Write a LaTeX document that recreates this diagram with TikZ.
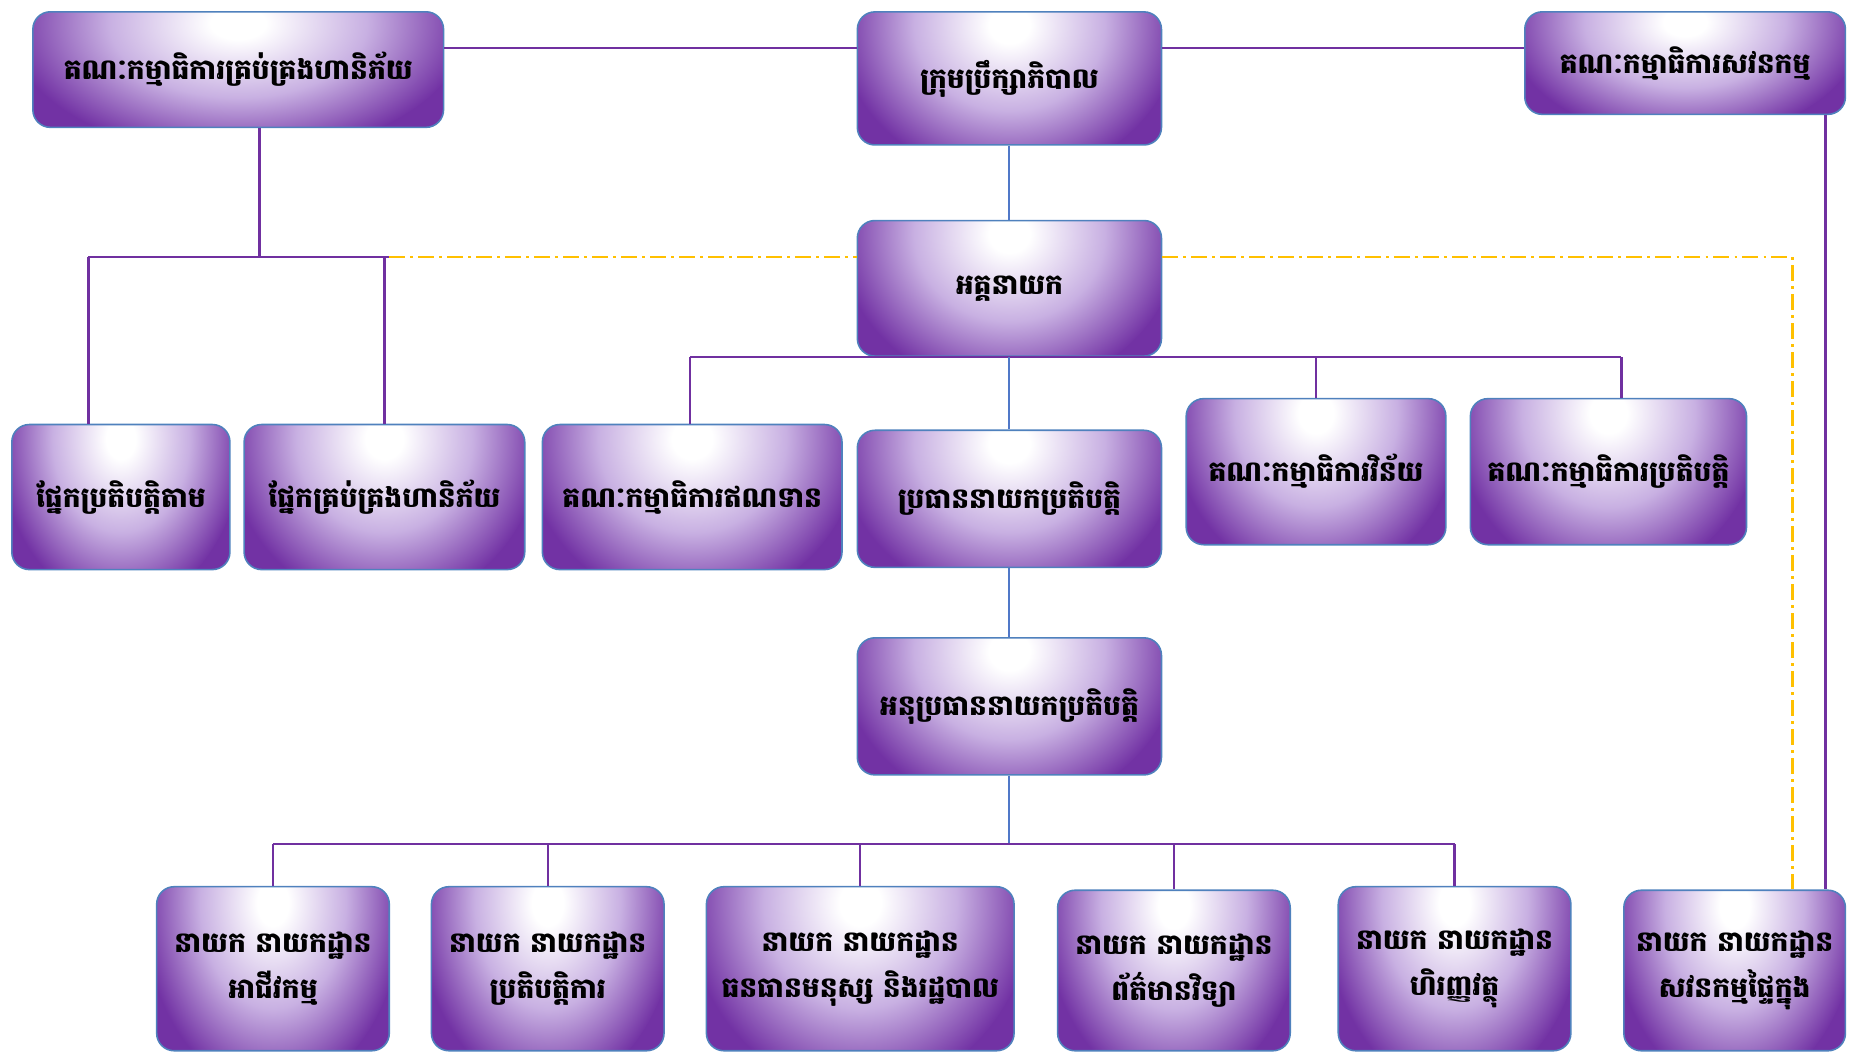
\documentclass[tikz,border=0pt]{standalone}
\usepackage{fontspec}
\newfontfamily\kh[Script=Khmer]{Battambang}
\usetikzlibrary{calc}
\definecolor{boxedge}{RGB}{114,50,164}
\definecolor{boxmid}{RGB}{200,176,226}
\definecolor{boxline}{RGB}{79,129,189}
\definecolor{lnpurple}{RGB}{112,48,160}
\definecolor{lnblue}{RGB}{80,120,200}
\definecolor{lnyellow}{RGB}{255,192,0}
\pgfdeclareradialshading{boxglow}{\pgfpoint{0bp}{0bp}}{color(0bp)=(white); color(3bp)=(white); color(14bp)=(boxmid); color(25bp)=(boxedge); color(50bp)=(boxedge)}
\newcommand{\khtext}{\kh\bfseries\fontsize{16}{26}\selectfont}
\tikzset{
  box/.style={rounded corners=0.35cm, draw=boxline, line width=0.9pt, fill=boxedge,
    inner sep=2pt, align=center, font=\khtext, text=black,
    path picture={
      \shade[shading=boxglow] let \p1=(path picture bounding box.south west),
        \p2=(path picture bounding box.north east) in
        ({(\x1+\x2)/2},{\y2-0.1*(\y2-\y1)}) ellipse [x radius={0.56*(\x2-\x1)}, y radius={1.15*(\y2-\y1)}];
    }},
  conn/.style={draw=lnpurple, line width=1.3pt},
  connb/.style={draw=lnblue, line width=1.1pt},
  ydash/.style={draw=lnyellow, line width=1.3pt, dash pattern=on 9pt off 3pt on 1.5pt off 3pt}
}
\begin{document}
\begin{tikzpicture}[x=0.02358cm, y=-0.02358cm]
\useasboundingbox (0,0) rectangle (1568,894);

% nodes
\node[box, minimum width=8.21cm, minimum height=2.31cm] (gkr) at (202,59) {គណៈកម្មាធិការគ្រប់គ្រងហានិភ័យ};
\node[box, minimum width=6.08cm, minimum height=2.66cm] (board) at (856,66.5) {ក្រុមប្រឹក្សាភិបាល};
\node[box, minimum width=6.41cm, minimum height=2.05cm] (audit) at (1429,53.5) {គណៈកម្មាធិការសវនកម្ម};
\node[box, minimum width=6.08cm, minimum height=2.71cm] (ceo) at (856,244.5) {អគ្គនាយក};

\node[box, minimum width=4.36cm, minimum height=2.90cm] (comp) at (102.5,421.5) {ផ្នែកប្រតិបត្តិតាម};
\node[box, minimum width=5.61cm, minimum height=2.90cm] (rdept) at (326,421.5) {ផ្នែកគ្រប់គ្រងហានិភ័យ};
\node[box, minimum width=5.99cm, minimum height=2.90cm] (credit) at (587,421.5) {គណៈកម្មាធិការឥណទាន};
\node[box, minimum width=6.08cm, minimum height=2.74cm] (coo) at (856,423) {ប្រធាននាយកប្រតិបត្តិ};
\node[box, minimum width=5.19cm, minimum height=2.92cm] (disc) at (1116,400) {គណៈកម្មាធិការវិន័យ};
\node[box, minimum width=5.52cm, minimum height=2.92cm] (exec) at (1364,400) {គណៈកម្មាធិការប្រតិបត្តិ};

\node[box, minimum width=6.08cm, minimum height=2.74cm] (dep) at (856,599) {អនុប្រធាននាយកប្រតិបត្តិ};

\node[box, minimum width=4.65cm, minimum height=3.28cm] (busn) at (231.5,821.5) {នាយក នាយកដ្ឋាន\\អាជីវកម្ម};
\node[box, minimum width=4.65cm, minimum height=3.28cm] (ops) at (464.5,821.5) {នាយក នាយកដ្ឋាន\\ប្រតិបត្តិការ};
\node[box, minimum width=6.15cm, minimum height=3.28cm] (hr) at (729.5,821.5) {នាយក នាយកដ្ឋាន\\ធនធានមនុស្ស និងរដ្ឋបាល};
\node[box, minimum width=4.65cm, minimum height=3.21cm] (it) at (995.5,823) {នាយក នាយកដ្ឋាន\\ព័ត៌មានវិទ្យា};
\node[box, minimum width=4.65cm, minimum height=3.28cm] (fin) at (1233.5,821.5) {នាយក នាយកដ្ឋាន\\ហិរញ្ញវត្ថុ};
\node[box, minimum width=4.43cm, minimum height=3.21cm] (iaud) at (1471,823) {នាយក នាយកដ្ឋាន\\សវនកម្មផ្ទៃក្នុង};

% helper coordinates
\coordinate (tl) at (0,41);
\coordinate (jL) at (220,218);
\coordinate (bL1) at (75,218);
\coordinate (bL2) at (330,218);
\coordinate (yR) at (1520,218);
\coordinate (b1L) at (585,303);
\coordinate (b1R) at (1375,303);
\coordinate (b2) at (0,716);
\coordinate (ar) at (1548,0);

% connectors
\draw[conn] (gkr.east |- tl) -- (board.west |- tl);
\draw[conn] (board.east |- tl) -- (audit.west |- tl);
\draw[conn] (gkr.south -| jL) -- (jL);
\draw[conn] (bL1) -- (bL2);
\draw[conn] (bL1) -- (comp.north -| bL1);
\draw[conn] (rdept.north |- bL2) -- (rdept.north);
\draw[ydash] (bL2) -- (ceo.west |- bL2);
\draw[ydash] (ceo.east |- yR) -- (yR) -- (iaud.north -| yR);
\draw[connb] (board.south) -- (ceo.north);
\draw[conn] (b1L) -- (b1R);
\draw[conn] (b1L) -- (credit.north -| b1L);
\draw[connb] (coo.north |- b1L) -- (coo.north);
\draw[conn] (disc.north |- b1L) -- (disc.north);
\draw[conn] (b1R) -- (exec.north -| b1R);
\draw[connb] (coo.south) -- (dep.north);
\draw[connb] (dep.south) -- (dep.south |- b2);
\draw[conn] (busn.north |- b2) -- (fin.north |- b2);
\draw[conn] (busn.north |- b2) -- (busn.north);
\draw[conn] (ops.north |- b2) -- (ops.north);
\draw[conn] (hr.north |- b2) -- (hr.north);
\draw[conn] (it.north |- b2) -- (it.north);
\draw[conn] (fin.north |- b2) -- (fin.north);
\draw[conn] (audit.south -| ar) -- (iaud.north -| ar);
\end{tikzpicture}
\end{document}
